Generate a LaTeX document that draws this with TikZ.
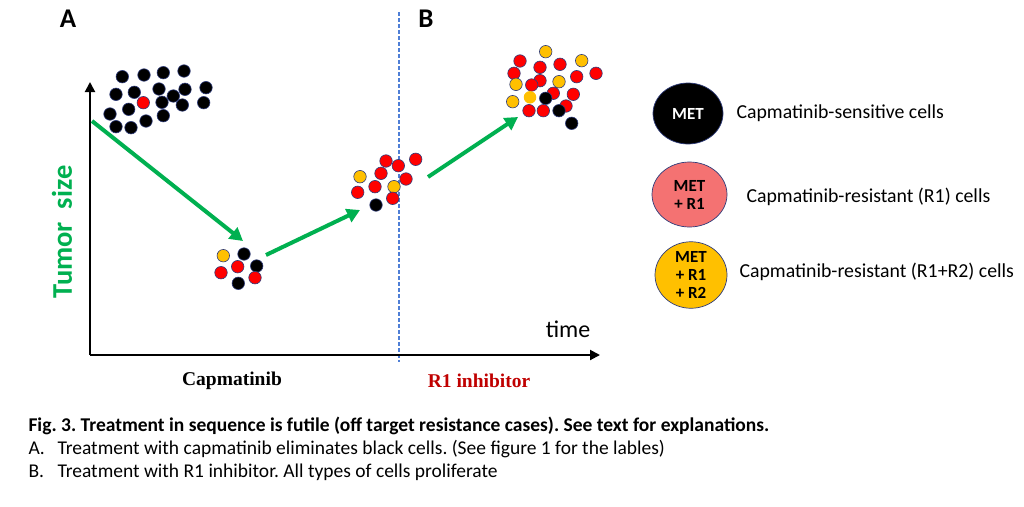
\documentclass[tikz,border=0pt]{standalone}
\usepackage{fontspec}
\setmainfont{Carlito}
\newfontfamily\serifbold{Liberation Serif}
\usetikzlibrary{arrows.meta,shapes.geometric}
\frenchspacing
\definecolor{cellline}{HTML}{2F3C7A}
\definecolor{cred}{HTML}{FF0000}
\definecolor{cyel}{HTML}{FFC000}
\definecolor{lred}{HTML}{F47272}
\definecolor{arrgreen}{HTML}{00B050}
\definecolor{dashblue}{HTML}{4F7FD6}
\definecolor{darkred}{HTML}{C00000}
\tikzset{
  cell/.style={circle, minimum size=12.5pt, inner sep=0pt, draw=cellline, line width=0.6pt},
  bk/.style={cell, fill=black},
  rd/.style={cell, fill=cred},
  yl/.style={cell, fill=cyel},
  growarrow/.style={draw=arrgreen, line width=4pt, -{Triangle[length=13pt,width=14pt]}},
  axisarrow/.style={draw=black, line width=2pt, -{Triangle[length=10pt,width=10pt]}},
  legcell/.style={ellipse, draw=cellline, line width=0.7pt, inner sep=0pt, align=center, font=\fontsize{17}{18}\selectfont\bfseries},
  legtext/.style={anchor=west, font=\fontsize{19.8}{22}\selectfont},
  captext/.style={anchor=base west, font=\fontsize{19.5}{22}\selectfont},
}
\begin{document}
\begin{tikzpicture}[x=1pt,y=-1pt]
\useasboundingbox (0,0) rectangle (1024,506);
\fill[white] (0,0) rectangle (1024,506);
% labels A B
\node[font=\fontsize{27}{28}\selectfont\bfseries] (lA) at (68,19) {A};
\node[font=\fontsize{27}{28}\selectfont\bfseries] (lB) at (426,19) {B};
% dashed divider
\coordinate (dtop) at (399,12);
\coordinate (dbot) at (399,362);
\draw[dashblue, line width=1.3pt, dash pattern=on 3.5pt off 2.5pt] (dtop) -- (dbot);
% axes
\coordinate (orig) at (90,355);
\coordinate (ytip) at (90,82);
\coordinate (xtip) at (600,355);
\draw[axisarrow] (orig) -- (ytip);
\draw[axisarrow] (orig) -- (xtip);
\node[rotate=90, text=arrgreen, font=\fontsize{28.5}{30}\selectfont\bfseries] (ylab) at (62,232) {Tumor\ \ size};
\node[font=\fontsize{24}{26}\selectfont] (xlab) at (568,329) {time};
\node[font=\fontsize{19.5}{21}\selectfont\serifbold\bfseries] (t1) at (232,381) {Capmatinib};
\node[text=darkred, font=\fontsize{19.5}{21}\selectfont\serifbold\bfseries] (t2) at (479,381) {R1 inhibitor};
% cluster 1
\node[bk] (a1) at (122.3,76.7) {};
\node[bk] (a2) at (144,75) {};
\node[bk] (a3) at (163.3,72.7) {};
\node[bk] (a4) at (184,71) {};
\node[bk] (a5) at (116,94.3) {};
\node[bk] (a6) at (134.3,92.3) {};
\node[bk] (a7) at (159,89) {};
\node[bk] (a8) at (185,89.3) {};
\node[bk] (a9) at (206,87.7) {};
\node[bk] (a10) at (173.3,96) {};
\node[rd] (a11) at (143.3,102.7) {};
\node[bk] (a12) at (162,102.3) {};
\node[bk] (a13) at (182.3,105) {};
\node[bk] (a14) at (203.7,102.7) {};
\node[bk] (a15) at (128.7,109.3) {};
\node[bk] (a16) at (110,114) {};
\node[bk] (a17) at (146,121) {};
\node[bk] (a18) at (163.3,115.7) {};
\node[bk] (a19) at (116,126.7) {};
\node[bk] (a20) at (131,127.7) {};
% cluster 2
\node[yl] (b1) at (223.3,255.7) {};
\node[bk] (b2) at (244,254) {};
\node[rd] (b3) at (221,272.7) {};
\node[rd] (b4) at (237.7,266.7) {};
\node[bk] (b5) at (256.7,266) {};
\node[rd] (b6) at (255,277.7) {};
\node[bk] (b7) at (238.3,283.3) {};
% cluster 3
\node[rd] (c1) at (386,161) {};
\node[rd] (c2) at (398.3,165.7) {};
\node[rd] (c3) at (415.7,159.3) {};
\node[yl] (c4) at (360,176.7) {};
\node[rd] (c5) at (381,173.3) {};
\node[rd] (c6) at (406,179) {};
\node[rd] (c7) at (357.7,192.3) {};
\node[rd] (c8) at (375,186.7) {};
\node[yl] (c9) at (394,186.7) {};
\node[rd] (c10) at (392.7,198.3) {};
\node[bk] (c11) at (376,205) {};
% cluster 4
\node[yl] (d1) at (545.7,51.7) {};
\node[rd] (d2) at (520,61) {};
\node[rd] (d3) at (540,67.3) {};
\node[rd] (d4) at (560,64.3) {};
\node[yl] (d5) at (581.7,60.7) {};
\node[rd] (d6) at (514,73.3) {};
\node[rd] (d7) at (596,73.3) {};
\node[rd] (d8) at (576.7,76.7) {};
\node[rd] (d9) at (540,80.7) {};
\node[yl] (d10) at (559,81.7) {};
\node[yl] (d11) at (516,84.3) {};
\node[rd] (d12) at (531.7,85) {};
\node[rd] (d13) at (553.3,93.3) {};
\node[rd] (d14) at (573.3,94.3) {};
\node[cell, draw=none, fill=cyel] (d15) at (530,97.3) {};
\node[bk] (d16) at (545.7,98.3) {};
\node[yl] (d17) at (512.7,101.7) {};
\node[rd] (d18) at (566,106) {};
\node[rd] (d19) at (529,110.7) {};
\node[rd] (d20) at (543.3,110.7) {};
\node[bk] (d21) at (559,110.7) {};
\node[bk] (d22) at (571.7,123.3) {};
% growth arrows
\coordinate (g1s) at (92,121);
\coordinate (g1e) at (243,241);
\coordinate (g2s) at (266,255);
\coordinate (g2e) at (360,210);
\coordinate (g3s) at (428,177);
\coordinate (g3e) at (518,117);
\draw[growarrow] (g1s) -- (g1e);
\draw[growarrow] (g2s) -- (g2e);
\draw[growarrow] (g3s) -- (g3e);
% legend
\node[legcell, fill=black, text=white, minimum width=70pt, minimum height=61pt] (L1) at (688,113.5) {MET};
\node[legcell, fill=lred, minimum width=75pt, minimum height=65pt] (L2) at (689.5,194.5) {MET\\+ R1};
\node[legcell, fill=cyel, minimum width=72pt, minimum height=64pt] (L3) at (691,275) {MET\\+ R1\\+ R2};
\node[legtext] (T1) at (733,113) {Capmatinib-sensitive cells};
\node[legtext] (T2) at (743,197) {Capmatinib-resistant (R1) cells};
\node[legtext] (T3) at (736,272) {Capmatinib-resistant (R1+R2) cells};
% caption
\node[captext, font=\fontsize{19.5}{22}\selectfont\bfseries] (cap1) at (25,431) {Fig. 3. Treatment in sequence is futile (off target resistance cases). See text for explanations.};
\node[captext] (cap2a) at (25,454) {A.};
\node[captext] (cap2) at (54,454) {Treatment with capmatinib eliminates black cells. (See figure 1 for the lables)};
\node[captext] (cap3a) at (25,477) {B.};
\node[captext] (cap3) at (54,477) {Treatment with R1 inhibitor. All types of cells proliferate};
\end{tikzpicture}
\end{document}
